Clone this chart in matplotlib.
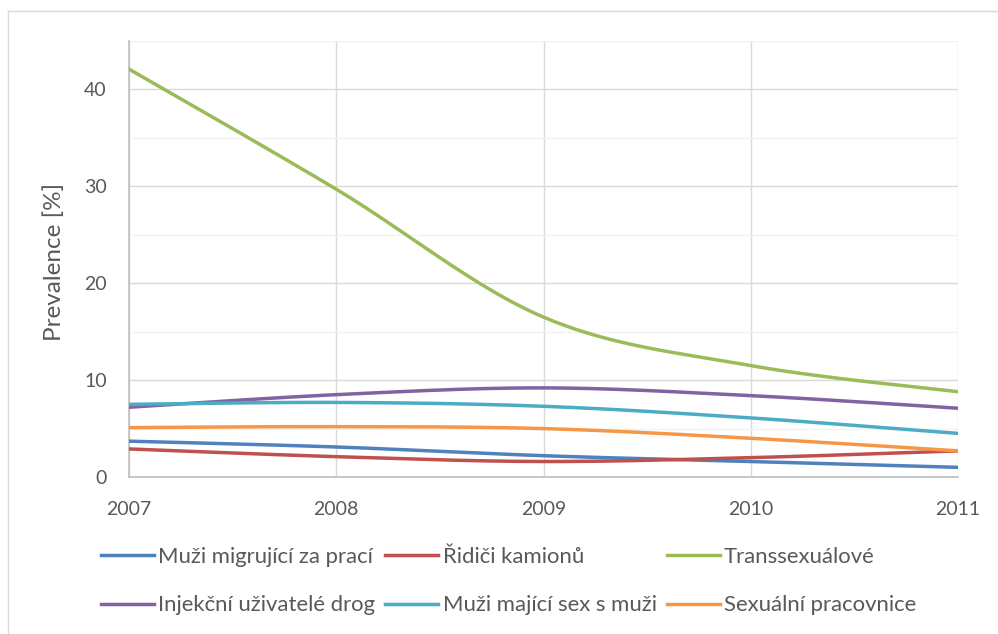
import numpy as np
import matplotlib
matplotlib.use("Agg")
import matplotlib.pyplot as plt
from matplotlib.lines import Line2D

# ── Data ─────────────────────────────────────────────────────────────────────

years = [2007, 2008, 2009, 2010, 2011]

migranti = [3.7, 3.1, 2.2, 1.6, 1.0]
ridici = [2.9, 2.1, 1.6, 2.0, 2.7]
transsexualove = [42.1, 29.7, 16.5, 11.5, 8.8]
injekcni = [7.2, 8.5, 9.2, 8.4, 7.1]
msm = [7.5, 7.7, 7.3, 6.1, 4.5]
pracovnice = [5.1, 5.2, 5.0, 4.0, 2.7]

SERIES = [
    ("Muži migrující za prací", migranti, "#4F81BD"),
    ("Řidiči kamionů", ridici, "#C0504D"),
    ("Transsexuálové", transsexualove, "#9BBB59"),
    ("Injekční uživatelé drog", injekcni, "#8064A2"),
    ("Muži mající sex s muži", msm, "#4BACC6"),
    ("Sexuální pracovnice", pracovnice, "#F79646"),
]

TEXT_COLOR = "#595959"

plt.rcParams["font.family"] = ["Lato", "DejaVu Sans"]


# ── helpers ──────────────────────────────────────────────────────────────────

def smooth_curve(x, y, n=40):
    """Catmull-Rom style bezier through the points (office 'smoothed line')."""
    x = np.asarray(x, dtype=float)
    y = np.asarray(y, dtype=float)
    px = np.concatenate([[x[0]], x, [x[-1]]])
    py = np.concatenate([[y[0]], y, [y[-1]]])
    t = np.linspace(0, 1, n)[:, None]
    xs, ys = [], []
    for i in range(1, len(px) - 2):
        p0 = np.array([px[i], py[i]])
        p3 = np.array([px[i + 1], py[i + 1]])
        p1 = p0 + (np.array([px[i + 1], py[i + 1]]) - np.array([px[i - 1], py[i - 1]])) / 6
        p2 = p3 - (np.array([px[i + 2], py[i + 2]]) - np.array([px[i], py[i]])) / 6
        pts = ((1 - t) ** 3) * p0 + 3 * ((1 - t) ** 2) * t * p1 \
            + 3 * (1 - t) * t ** 2 * p2 + t ** 3 * p3
        xs.append(pts[:, 0])
        ys.append(pts[:, 1])
    return np.concatenate(xs), np.concatenate(ys)


# ── Plot ─────────────────────────────────────────────────────────────────────

fig = plt.figure(figsize=(9.98, 6.34), dpi=100)
ax = fig.add_axes([0.1293, 0.2476, 0.8307, 0.6877])

handles = []
for label, vals, color in SERIES:
    sx, sy = smooth_curve(years, vals)
    ax.plot(sx, sy, color=color, lw=2.5, solid_capstyle="round", zorder=3)
    handles.append(Line2D([0], [0], color=color, lw=2.5, label=label))

ax.set_xlim(2007, 2011)
ax.set_ylim(0, 45)
ax.set_xticks(years)
ax.set_yticks([0, 10, 20, 30, 40])
ax.set_yticks(np.arange(5, 46, 10), minor=True)

ax.grid(True, which="major", color="#D9D9D9", lw=1.0)
ax.grid(True, which="minor", axis="y", color="#F2F2F2", lw=1.0)
ax.set_axisbelow(True)

for side in ["top", "right"]:
    ax.spines[side].set_visible(False)
for side in ["left", "bottom"]:
    ax.spines[side].set_color("#BFBFBF")
    ax.spines[side].set_linewidth(1.2)

ax.tick_params(axis="both", which="both", length=0, labelsize=14,
               colors=TEXT_COLOR)
ax.tick_params(axis="x", pad=17)
ax.tick_params(axis="y", pad=16)

fig.text(54 / 998, 0.587, "Prevalence [%]", rotation=90, ha="center",
         va="center", fontsize=17.5, color=TEXT_COLOR)

# legend is filled column-first, so reorder to read row by row
order = [0, 3, 1, 4, 2, 5]
fig.legend([handles[i] for i in order], [SERIES[i][0] for i in order],
           loc="center", bbox_to_anchor=(0.5095, 0.0836), ncol=3,
           frameon=False, fontsize=15.9, labelcolor=TEXT_COLOR,
           handlelength=2.4, handletextpad=0.2, columnspacing=0.45,
           labelspacing=1.3, borderpad=0)

# thin frame around the chart
fig.add_artist(Line2D([8 / 998, 1.0], [1 - 11 / 634, 1 - 11 / 634],
                      color="#D9D9D9", lw=1.0, transform=fig.transFigure))
fig.add_artist(Line2D([8 / 998, 8 / 998], [0, 1 - 11 / 634],
                      color="#D9D9D9", lw=1.0, transform=fig.transFigure))

fig.savefig("out.png", dpi=100, facecolor="white")
